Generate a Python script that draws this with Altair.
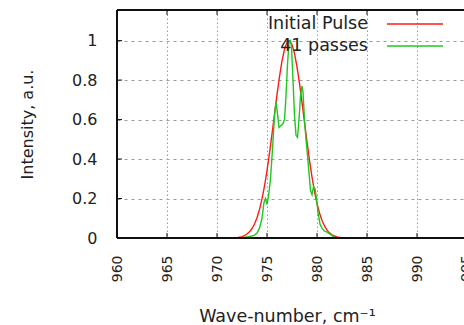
import altair as alt
import pandas as pd

# Spectrum of the initial pulse (wave-number in cm^-1, normalised intensity)
red_wn = [972.0, 972.25, 972.5, 972.75, 973.0, 973.25, 973.5, 973.75, 974.0, 974.25,
          974.5, 974.75, 975.0, 975.25, 975.5, 975.75, 976.0, 976.25, 976.5, 976.75,
          977.0, 977.25, 977.5, 977.75, 978.0, 978.25, 978.5, 978.75, 979.0, 979.25,
          979.5, 979.75, 980.0, 980.25, 980.5, 980.75, 981.0, 981.25, 981.5, 981.75,
          982.0, 982.25, 982.5]
red_val = [0.0, 0.004, 0.007, 0.012, 0.02, 0.031, 0.048, 0.071, 0.103, 0.145,
           0.198, 0.263, 0.341, 0.43, 0.526, 0.627, 0.726, 0.818, 0.897, 0.956,
           0.991, 0.999, 0.98, 0.935, 0.867, 0.783, 0.687, 0.586, 0.487, 0.393,
           0.309, 0.236, 0.175, 0.127, 0.089, 0.061, 0.04, 0.026, 0.016, 0.01,
           0.006, 0.003, 0.0]

# Spectrum after 41 passes
green_wn = [972.5, 973.0, 973.5, 973.75, 974.0, 974.25, 974.5, 974.7, 974.85, 975.0,
            975.15, 975.35, 975.55, 975.75, 975.9, 976.05, 976.2, 976.4, 976.6, 976.75,
            976.9, 977.05, 977.2, 977.35, 977.45, 977.6, 977.75, 977.9, 978.05, 978.2,
            978.35, 978.5, 978.6, 978.75, 978.9, 979.05, 979.2, 979.35, 979.5, 979.65,
            979.8, 979.95, 980.1, 980.3, 980.5, 980.75, 981.0, 981.3, 981.6, 981.9]
green_val = [0.0, 0.005, 0.01, 0.015, 0.025, 0.05, 0.1, 0.18, 0.2, 0.17,
             0.21, 0.3, 0.45, 0.62, 0.69, 0.63, 0.56, 0.57, 0.58, 0.6,
             0.72, 0.88, 0.99, 1.0, 0.97, 0.8, 0.62, 0.52, 0.51, 0.6,
             0.72, 0.77, 0.74, 0.6, 0.5, 0.42, 0.33, 0.24, 0.22, 0.26,
             0.25, 0.2, 0.13, 0.07, 0.05, 0.035, 0.03, 0.02, 0.008, 0.0]

x_ticks = [960, 965, 970, 975, 980, 985, 990]
x_edge_tick = [995]
y_ticks = [0, 0.2, 0.4, 0.6, 0.8, 1.0]
legend_labels = ["Initial Pulse", "41 passes"]

W, H = 347, 228
FONT = "DejaVu Sans"
TXT = "#222222"
FRAME = "#111111"
RED = "#ff1a1a"
GREEN = "#1ec81e"

red_df = pd.DataFrame({"wn": red_wn, "val": red_val})
green_df = pd.DataFrame({"wn": green_wn, "val": green_val})
xt_df = pd.DataFrame({"wn": x_ticks})
xe_df = pd.DataFrame({"wn": x_edge_tick, "t": [str(v) for v in x_edge_tick]})
yt_df = pd.DataFrame({"val": y_ticks})

xscale = alt.Scale(domain=[960, 994.7], nice=False, zero=False)
yscale = alt.Scale(domain=[0, 1.155], nice=False)

x_axis = alt.Axis(
    values=x_ticks, format="d", labelAngle=270, labelAlign="right",
    labelBaseline="middle", labelPadding=17, labelFontSize=14,
    labelColor=TXT, labelFont=FONT, ticks=False, tickSize=0, domain=False,
    grid=True, gridColor="#9a9a9a", gridDash=[1.5, 2.5], gridWidth=1,
    title="Wave-number, cm⁻¹", titleX=170, titleY=78, titleAlign="center",
    titleBaseline="middle", titleFontSize=17.5, titleFontWeight="normal",
    titleColor=TXT, titleFont=FONT,
)
y_axis = alt.Axis(
    values=y_ticks, format="~g", labelPadding=20, labelFontSize=16,
    labelColor=TXT, labelFont=FONT, ticks=False, tickSize=0, domain=False,
    grid=True, gridColor="#9a9a9a", gridDash=[3, 4], gridWidth=1,
    title="Intensity, a.u.", titleX=-90, titleY=H / 2, titleAngle=270,
    titleAlign="center", titleBaseline="middle", titleFontSize=16,
    titleFontWeight="normal", titleColor=TXT, titleFont=FONT,
)

red_line = alt.Chart(red_df).mark_line(color=RED, strokeWidth=1.4).encode(
    x=alt.X("wn:Q", scale=xscale, axis=x_axis),
    y=alt.Y("val:Q", scale=yscale, axis=y_axis),
)
green_line = alt.Chart(green_df).mark_line(color=GREEN, strokeWidth=1.4).encode(
    x=alt.X("wn:Q", scale=xscale),
    y=alt.Y("val:Q", scale=yscale),
)

# label of the last tick, running off the right edge
edge_label = alt.Chart(xe_df).mark_text(
    angle=270, align="right", baseline="middle", font=FONT, fontSize=14,
    color=TXT, dy=0
).encode(x=alt.X("wn:Q", scale=xscale), y=alt.value(H + 17), text="t:N")

# frame on the left, top and bottom (the right side is open)
frame = [
    alt.Chart(xt_df).mark_rule(color=FRAME, strokeWidth=1.5).encode(
        x=alt.value(0), x2=alt.value(W + 5), y=alt.value(0)),
    alt.Chart(xt_df).mark_rule(color=FRAME, strokeWidth=1.5).encode(
        x=alt.value(0), x2=alt.value(W + 5), y=alt.value(H)),
    alt.Chart(xt_df).mark_rule(color=FRAME, strokeWidth=1.5).encode(
        x=alt.value(0), y=alt.value(0), y2=alt.value(H)),
]

# inward tick marks on the bottom, top and left frame
tick_bottom = alt.Chart(xt_df).mark_rule(color=FRAME, strokeWidth=1).encode(
    x=alt.X("wn:Q", scale=xscale), y=alt.value(H), y2=alt.value(H - 5))
tick_top = alt.Chart(xt_df).mark_rule(color=FRAME, strokeWidth=1).encode(
    x=alt.X("wn:Q", scale=xscale), y=alt.value(0), y2=alt.value(5))
tick_left = alt.Chart(yt_df).mark_rule(color=FRAME, strokeWidth=1).encode(
    y=alt.Y("val:Q", scale=yscale), x=alt.value(0), x2=alt.value(5))

# key in the upper right corner
leg_text = [
    alt.Chart(pd.DataFrame({"t": [legend_labels[i]]})).mark_text(
        align="right", baseline="middle", font=FONT, fontSize=17.5, color=TXT
    ).encode(x=alt.value(251), y=alt.value(14 + 22 * i), text="t:N")
    for i in range(2)
]
leg_lines = [
    alt.Chart(pd.DataFrame({"t": [legend_labels[i]]})).mark_rule(
        color=c, strokeWidth=1.6
    ).encode(x=alt.value(270), x2=alt.value(326), y=alt.value(14 + 22 * i))
    for i, c in enumerate([RED, GREEN])
]

chart = alt.layer(
    red_line, green_line, *frame, tick_bottom, tick_top, tick_left,
    edge_label, *leg_lines, *leg_text
).properties(
    width=W, height=H,
    autosize=alt.AutoSizeParams(type="none"),
    padding={"left": 117, "top": 10, "right": 0, "bottom": 87},
).configure_view(
    stroke=None
).configure(background="white")

chart.save("out.html", embed_options={"renderer": "svg", "actions": False})
